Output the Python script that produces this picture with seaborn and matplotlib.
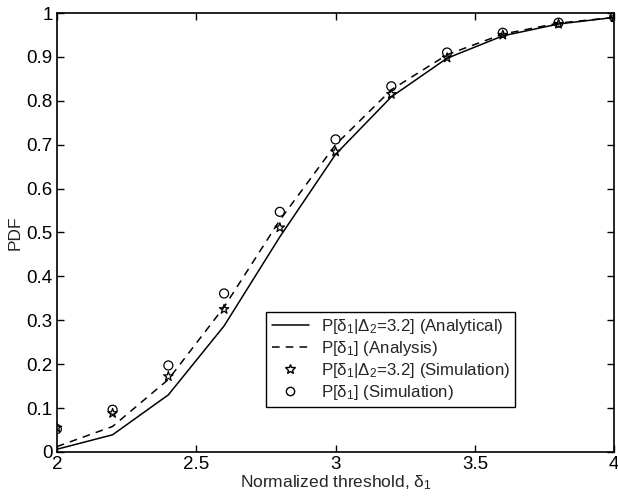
import matplotlib
matplotlib.use('Agg')
import matplotlib.pyplot as plt
import seaborn as sns
import pandas as pd
from matplotlib.lines import Line2D

# Data
threshold = [2.0, 2.2, 2.4, 2.6, 2.8, 3.0, 3.2, 3.4, 3.6, 3.8, 4.0]
cond_analytical = [0.006, 0.039, 0.130, 0.287, 0.490, 0.678, 0.809, 0.897, 0.948, 0.975, 0.990]
marg_analysis = [0.012, 0.058, 0.165, 0.330, 0.528, 0.700, 0.825, 0.905, 0.952, 0.977, 0.990]
cond_simulation = [0.055, 0.088, 0.172, 0.325, 0.511, 0.684, 0.815, 0.898, 0.950, 0.975, 0.990]
marg_simulation = [0.052, 0.096, 0.197, 0.361, 0.547, 0.712, 0.833, 0.910, 0.955, 0.978, 0.990]

labels = [
    r'P[δ$_1$|Δ$_2$=3.2] (Analytical)',
    r'P[δ$_1$] (Analysis)',
    r'P[δ$_1$|Δ$_2$=3.2] (Simulation)',
    r'P[δ$_1$] (Simulation)',
]

lines_df = pd.DataFrame({
    'x': threshold * 2,
    'y': cond_analytical + marg_analysis,
    'series': [labels[0]] * len(threshold) + [labels[1]] * len(threshold),
})

sns.set_theme(style='ticks')
plt.rcParams['font.family'] = ['Liberation Sans', 'DejaVu Sans']
plt.rcParams['mathtext.fontset'] = 'custom'
plt.rcParams['mathtext.rm'] = 'Liberation Sans'
plt.rcParams['mathtext.it'] = 'Liberation Sans:italic'

fig = plt.figure(figsize=(6.18, 5.01), dpi=100)
ax = fig.add_axes([0.092, 0.098, 0.902, 0.876])

# analytical curves
sns.lineplot(data=lines_df, x='x', y='y', hue='series', style='series',
             palette=['black', 'black'], dashes=[(None, None), (5, 4)],
             linewidth=1.1, ax=ax, legend=False)

# simulation markers
sns.scatterplot(x=threshold, y=cond_simulation, marker='*', s=50, color='none',
                edgecolor='black', linewidth=0.9, zorder=3, ax=ax, legend=False)
sns.scatterplot(x=threshold, y=marg_simulation, marker='o', s=42, color='none',
                edgecolor='black', linewidth=0.9, zorder=3, ax=ax, legend=False)

ax.set_xlim(2, 4)
ax.set_ylim(0, 1)
ax.set_xticks([2, 2.5, 3, 3.5, 4])
ax.set_xticklabels(['2', '2.5', '3', '3.5', '4'])
ax.set_yticks([i / 10 for i in range(11)])
ax.set_yticklabels(['0'] + [f'0.{i}' for i in range(1, 10)] + ['1'])
ax.tick_params(direction='in', top=True, right=True, length=5, width=1,
               labelsize=13.5, pad=3, colors='black')
for sp in ax.spines.values():
    sp.set_visible(True)
    sp.set_linewidth(1.2)
    sp.set_color('black')

ax.set_xlabel(r'Normalized threshold, δ$_1$', fontsize=12.5, labelpad=0)
ax.set_ylabel('PDF', fontsize=12.5, labelpad=3)

handles = [
    Line2D([], [], color='black', lw=1.1),
    Line2D([], [], color='black', lw=1.1, dashes=(5, 4)),
    Line2D([], [], color='black', marker='*', ls='none', markerfacecolor='none', markersize=7),
    Line2D([], [], color='black', marker='o', ls='none', markerfacecolor='none', markersize=6),
]
leg = ax.legend(handles, labels, loc='lower left', bbox_to_anchor=(0.376, 0.102),
                fontsize=12.2, frameon=True, fancybox=False, framealpha=1,
                edgecolor='black', borderpad=0.3, labelspacing=0.18,
                handlelength=2.2, handletextpad=0.7, borderaxespad=0)
leg.get_frame().set_linewidth(1.0)

fig.savefig('out.png', dpi=100)
